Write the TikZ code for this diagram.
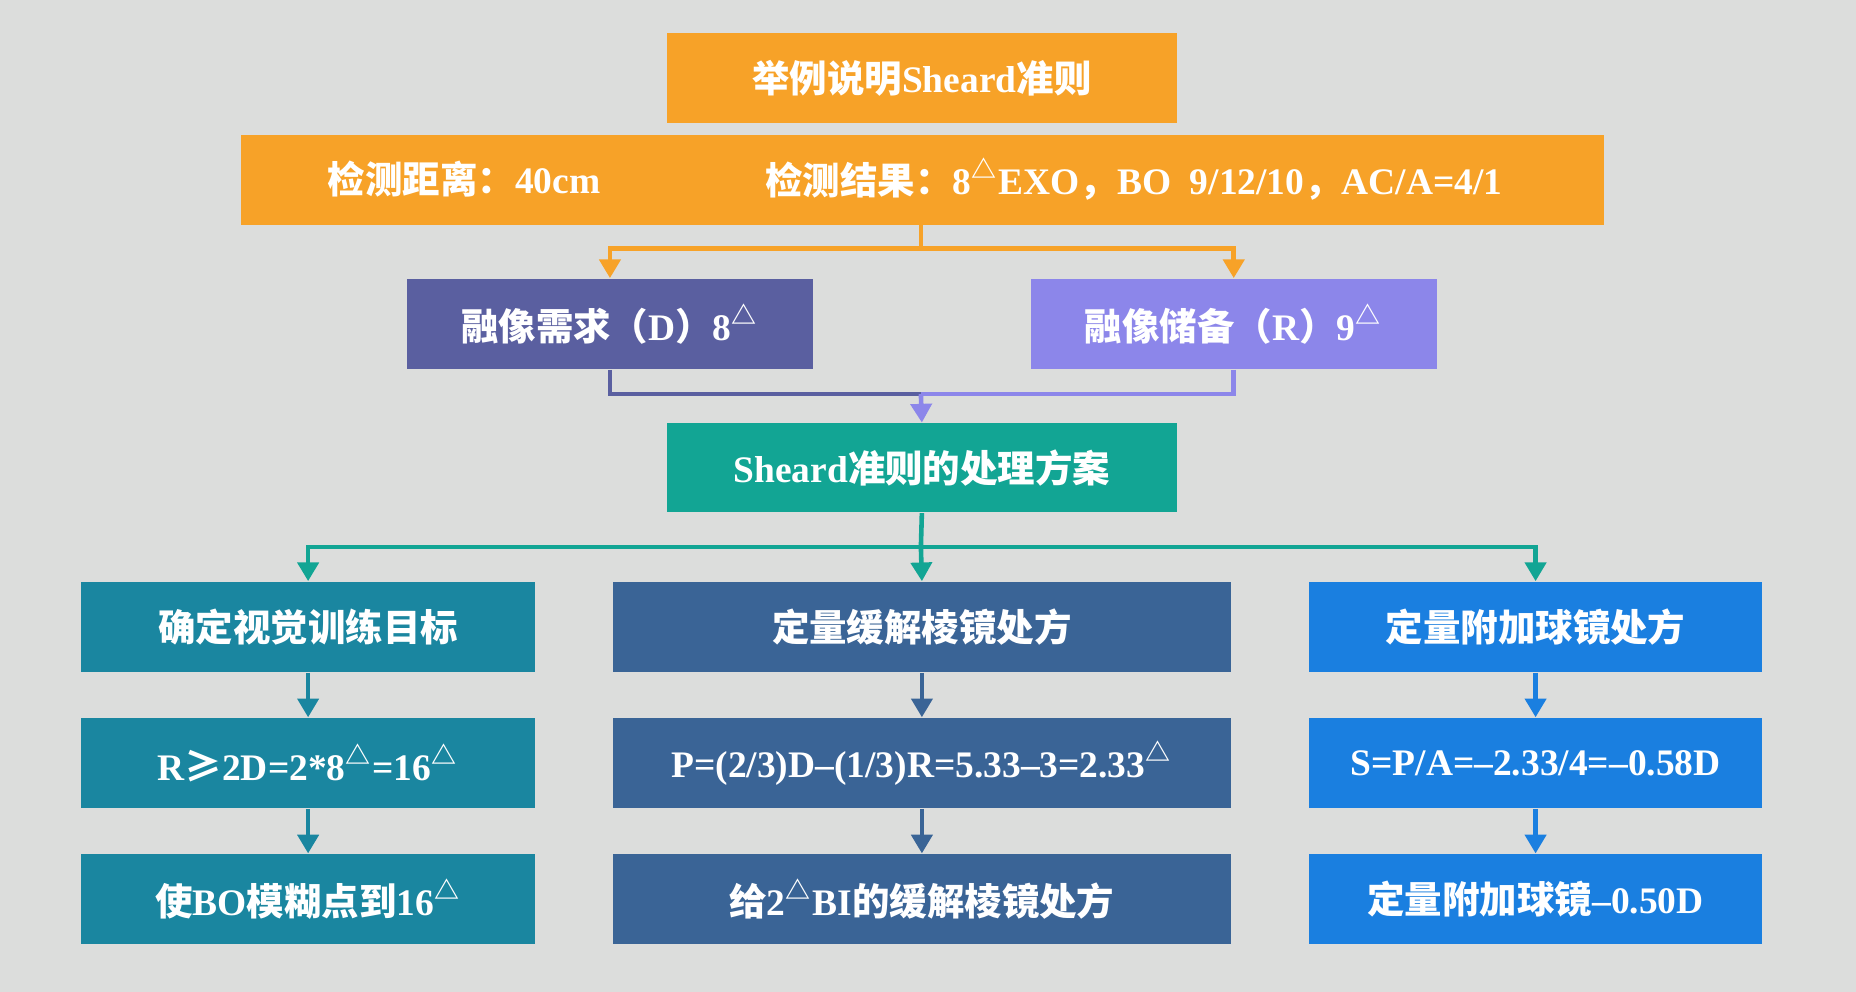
\documentclass[tikz,border=0pt]{standalone}
\usepackage{fontspec}
\setmainfont{Liberation Serif}
\newfontfamily\cjk{Noto Sans CJK SC}
\usetikzlibrary{arrows.meta}
\definecolor{bgray}{RGB}{220,221,220}
\definecolor{sorange}{RGB}{247,162,40}
\definecolor{sdblue}{RGB}{90,95,160}
\definecolor{slblue}{RGB}{140,134,234}
\definecolor{steal}{RGB}{18,165,148}
\definecolor{scolA}{RGB}{26,134,160}
\definecolor{scolB}{RGB}{58,100,150}
\definecolor{scolC}{RGB}{26,127,224}
\newcommand{\zh}[1]{{\cjk\bfseries #1}}
\newcommand{\tri}{\textsuperscript{\cjk △}}
\tikzset{
	sbox/.style={fill=#1, text=white, font=\bfseries\fontsize{9pt}{10pt}\selectfont, inner sep=0pt, anchor=north west},
	sarr/.style={draw=#1, line width=1.1pt, -{Triangle[width=5pt,length=4.5pt]}},
	sline/.style={draw=#1, line width=1.1pt}
}
\begin{document}
\begin{tikzpicture}[x=0.01cm,y=-0.01cm]
		\fill[bgray] (0,0) rectangle (1568,838);
		\useasboundingbox (0,0) rectangle (1568,838);
		% top part
		\node[sbox=sorange, minimum width=4.3cm, minimum height=0.76cm] (title) at (563,27) {\zh{举例说明}Sheard\zh{准则}};
		\node[sbox=sorange, minimum width=11.51cm, minimum height=0.76cm] (info) at (203,113) {};
		\node[text=white, font=\bfseries\fontsize{9pt}{10pt}\selectfont] (dist) at (392,151) {\zh{检测距离：}40cm};
		\node[text=white, font=\bfseries\fontsize{9pt}{10pt}\selectfont] (res) at (958,151) {\zh{检测结果：}8\tri EXO\zh{，}BO\ \ 9/12/10\zh{，}AC/A=4/1};
		\node[sbox=sdblue, minimum width=3.43cm, minimum height=0.76cm] (need) at (343,235) {\zh{融像需求（}D\zh{）}8\tri};
		\node[sbox=slblue, minimum width=3.43cm, minimum height=0.76cm] (res2) at (870,235) {\zh{融像储备（}R\zh{）}9\tri};
		\node[sbox=steal, minimum width=4.3cm, minimum height=0.75cm] (plan) at (563,357) {Sheard\zh{准则的处理方案}};
		\coordinate (split) at (778,210);
		\coordinate (join) at (778,333);
		\coordinate (fork) at (778,462);
		\draw[sline=sorange] (info.south -| split) -- (split);
		\draw[sarr=sorange] (split) -| (need.north);
		\draw[sarr=sorange] (split) -| (res2.north);
		\draw[sline=sdblue] (need.south) |- (join);
		\draw[sline=slblue] (res2.south) |- (join);
		\draw[sarr=slblue] (join) -- (plan.north);
		% three columns
		\foreach \n/\xa/\w/\c/\ta/\tb/\tc in {
			a/68/3.83/scolA/{\zh{确定视觉训练目标}}/{R{\cjk ≥}2D=2*8\tri=16\tri}/{\zh{使}BO\zh{模糊点到}16\tri},
			b/517/5.22/scolB/{\zh{定量缓解棱镜处方}}/{P=(2/3)D--(1/3)R=5.33--3=2.33\tri}/{\zh{给}2\tri BI\zh{的缓解棱镜处方}},
			c/1105/3.83/scolC/{\zh{定量附加球镜处方}}/{S=P/A=--2.33/4=--0.58D}/{\zh{定量附加球镜}--0.50D}} {
			\node[sbox=\c, minimum width=\w cm, minimum height=0.76cm] (\n1) at (\xa,491) {\ta};
			\node[sbox=\c, minimum width=\w cm, minimum height=0.76cm] (\n2) at (\xa,606) {\tb};
			\node[sbox=\c, minimum width=\w cm, minimum height=0.76cm] (\n3) at (\xa,721) {\tc};
			\draw[sarr=\c] (\n1.south) -- (\n2.north);
			\draw[sarr=\c] (\n2.south) -- (\n3.north);
		}
		\draw[sline=steal] (plan.south) -- (fork);
		\draw[sarr=steal] (fork) -| (a1.north);
		\draw[sarr=steal] (fork) -| (c1.north);
		\draw[sarr=steal] (fork) -- (b1.north);
\end{tikzpicture}
\end{document}
